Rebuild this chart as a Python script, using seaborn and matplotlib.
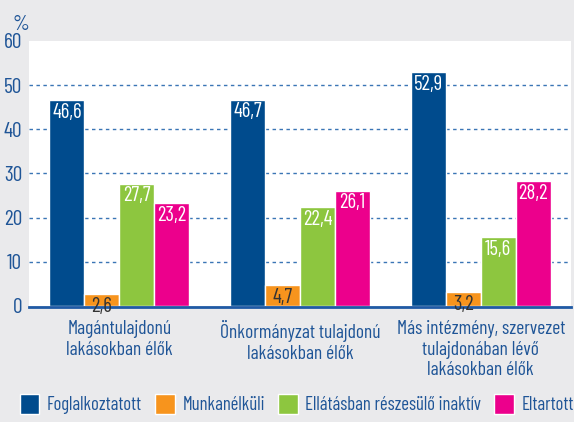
import pandas as pd
import matplotlib.pyplot as plt
import seaborn as sns

# values
groups = ['Magántulajdonú\nlakásokban élők',
          'Önkormányzat tulajdonú\nlakásokban élők',
          'Más intézmény, szervezet\ntulajdonában lévő\nlakásokban élők']
statuses = ['Foglalkoztatott', 'Munkanélküli', 'Ellátásban részesülő inaktív', 'Eltartott']
foglalkoztatott = [46.6, 46.7, 52.9]
munkanelkuli = [2.6, 4.7, 3.2]
inaktiv = [27.7, 22.4, 15.6]
eltartott = [23.2, 26.1, 28.2]
colors = ['#004b8d', '#f7941d', '#8dc63f', '#ec008c']

rows = []
for status, vals in zip(statuses, [foglalkoztatott, munkanelkuli, inaktiv, eltartott]):
    for g, v in zip(groups, vals):
        rows.append({'group': g, 'status': status, 'value': v})
df = pd.DataFrame(rows)

sns.set_style('white')
plt.rcParams['font.family'] = ['Barlow Condensed', 'DejaVu Sans']
blue_txt = '#1f5597'

fig = plt.figure(figsize=(5.74, 4.22), dpi=100, facecolor='#eaeaec')
ax = fig.add_axes([0.0505, 0.275, 0.9445, 0.628])
ax.set_facecolor('white')

sns.barplot(data=df, x='group', y='value', hue='status', order=groups, hue_order=statuses,
            palette=colors, width=0.775, saturation=1, ax=ax, legend=True)

# value labels just inside the top of each bar, decimal comma
for cont, status in zip(ax.containers, statuses):
    col = '#333333' if status == 'Munkanélküli' else 'white'
    for b in cont:
        ax.annotate(f'{b.get_height():.1f}'.replace('.', ','),
                    (b.get_x() + b.get_width() / 2, b.get_height()),
                    xytext=(0, -2), textcoords='offset points',
                    ha='center', va='top', color=col, fontsize=15)

ax.set_ylim(0, 60)
ax.set_xlim(-0.5, 2.5)
ax.set_yticks(range(0, 61, 10))
ax.tick_params(axis='y', length=0, labelsize=15.5, labelcolor=blue_txt, pad=5)
for y in range(10, 60, 10):
    ax.axhline(y, color='#3a75b5', lw=1, ls=(0, (2.5, 2.5)), zorder=0)

# category boundaries as major ticks, labels on minor ticks
ax.set_xticks([-0.5, 0.5, 1.5, 2.5])
ax.set_xticklabels([])
ax.set_xticks([0, 1, 2], minor=True)
ax.set_xticklabels(groups, minor=True, linespacing=1.25)
ax.tick_params(axis='x', which='major', length=7, width=2, color='#1f5aa5', direction='out')
ax.tick_params(axis='x', which='minor', length=0, pad=9, labelsize=14, labelcolor=blue_txt)
ax.set_xlabel('')
ax.set_ylabel('')

for side in ['top', 'right', 'left']:
    ax.spines[side].set_visible(False)
ax.spines['bottom'].set_color('#1f5aa5')
ax.spines['bottom'].set_linewidth(2)
ax.spines['bottom'].set_position(('outward', 1))

fig.text(0.036, 0.942, '%', color=blue_txt, fontsize=15.5, ha='center', va='center')

handles, labs = ax.get_legend_handles_labels()
ax.get_legend().remove()
fig.legend(handles, labs, loc='lower center', bbox_to_anchor=(0.517, -0.022), ncol=4, frameon=False,
           fontsize=13.5, handlelength=1.05, handleheight=1.3, handletextpad=0.4, columnspacing=0.7,
           labelcolor=blue_txt)

fig.savefig('out.png', dpi=100, facecolor=fig.get_facecolor())
